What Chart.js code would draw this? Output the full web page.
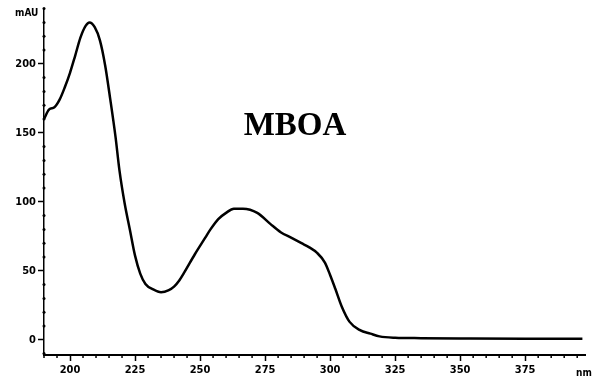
<!DOCTYPE html>
<html>
<head>
<meta charset="utf-8">
<script src="https://cdn.jsdelivr.net/npm/chart.js@4/dist/chart.umd.min.js"></script>
<style>
  html, body { margin: 0; padding: 0; background: #fff; }
  #wrap { width: 598px; height: 385px; }
</style>
</head>
<body>
<div id="wrap"><canvas id="myChart" width="598" height="385"></canvas></div>
<script>
// wavelength (nm) and absorbance (mAU)
const wavelengths = [190, 192, 194, 196, 198, 200, 202, 204, 206, 207.5, 209.5, 211.5, 213.5, 215.5, 217.5,
  219, 221, 223, 225, 227, 229, 232, 235, 238, 240, 242, 244, 248, 252, 254, 257, 260, 263, 266.5,
  272, 277, 281, 285, 289, 292, 295, 298, 300, 302, 304.5, 307.5, 311.5, 315.5, 319, 325,
  335, 350, 375, 397];
const absorbance = [160, 167, 168.5, 174, 183, 193.5, 206, 219, 227.5, 230, 226.5, 217, 199, 174, 147,
  123, 99, 80, 61, 48, 40.5, 36.5, 34.5, 36, 38.5, 43, 49, 62, 74, 80, 87.5, 92, 95, 95,
  92, 84, 78, 74, 70, 67, 63, 56, 47, 37, 24, 13, 7, 4.5, 2.5, 1.5,
  1.2, 1, 0.8, 0.8];
const xTicks = [200, 225, 250, 275, 300, 325, 350, 375];
const yTicks = [0, 50, 100, 150, 200];
const xMinorStep = 5;
const yMinorStep = 10;

const labelFont = { family: '"Liberation Sans Narrow", "DejaVu Sans Condensed", Arial, sans-serif', size: 11, weight: 'bold' };

const extras = {
  id: "extras",
  afterDraw(chart) {
    const { ctx, scales: { x, y } } = chart;
    ctx.save();
    ctx.strokeStyle = "#000";
    ctx.fillStyle = "#000";
    ctx.lineWidth = 1.5;
    // minor ticks on x
    for (let v = 190; v <= x.max; v += xMinorStep) {
      if (xTicks.includes(v)) continue;
      const px = x.getPixelForValue(v);
      ctx.beginPath();
      ctx.moveTo(px, x.top);
      ctx.lineTo(px, x.top + 3);
      ctx.stroke();
    }
    // minor dots on y
    for (let v = -10; v <= y.max; v += yMinorStep) {
      if (yTicks.includes(v)) continue;
      const py = y.getPixelForValue(v);
      ctx.beginPath();
      ctx.arc(y.right, py, 1.5, 0, Math.PI * 2);
      ctx.fill();
    }
    ctx.font = 'bold 10px "Liberation Sans Narrow", "DejaVu Sans Condensed", Arial, sans-serif';
    ctx.textAlign = "left";
    ctx.textBaseline = "middle";
    ctx.fillText("mAU", 15, 13);
    ctx.fillText("nm", 576, 373);
    ctx.font = 'bold 33px "Liberation Serif", "Times New Roman", serif';
    ctx.textAlign = "center";
    ctx.textBaseline = "alphabetic";
    ctx.fillText("MBOA", 295, 135);
    ctx.restore();
  },
};

const ctx = document.getElementById("myChart").getContext("2d");
const myChart = new Chart(ctx, {
  type: "line",
  data: {
    datasets: [
      {
        label: "MBOA",
        data: wavelengths.map((w, i) => ({ x: w, y: absorbance[i] })),
        borderColor: "#000",
        borderWidth: 2.5,
        pointRadius: 0,
        tension: 0.4,
        cubicInterpolationMode: "monotone",
        fill: false,
      },
    ],
  },
  options: {
    responsive: false,
    animation: false,
    layout: { padding: { top: 5, right: 13, left: 0, bottom: 0 } },
    plugins: { legend: { display: false }, tooltip: { enabled: false } },
    scales: {
      x: {
        type: "linear",
        min: 190,
        max: 398,
        afterBuildTicks: (s) => { s.ticks = xTicks.map((v) => ({ value: v })); },
        afterFit: (s) => { s.height = 30; },
        grid: { drawOnChartArea: false, drawTicks: true, tickLength: 6, tickColor: "#000", tickWidth: 1.5 },
        border: { color: "#000", width: 2 },
        ticks: { color: "#000", font: labelFont, padding: 3, maxRotation: 0 },
      },
      y: {
        min: -11,
        max: 240,
        afterBuildTicks: (s) => { s.ticks = yTicks.map((v) => ({ value: v })); },
        afterFit: (s) => { s.width = 44; },
        grid: { drawOnChartArea: false, drawTicks: true, tickLength: 6, tickColor: "#000", tickWidth: 1.5 },
        border: { color: "#000", width: 1.5, dash: [3, 2] },
        ticks: { color: "#000", font: labelFont, padding: 2 },
      },
    },
  },
  plugins: [extras],
});
</script>
</body>
</html>
